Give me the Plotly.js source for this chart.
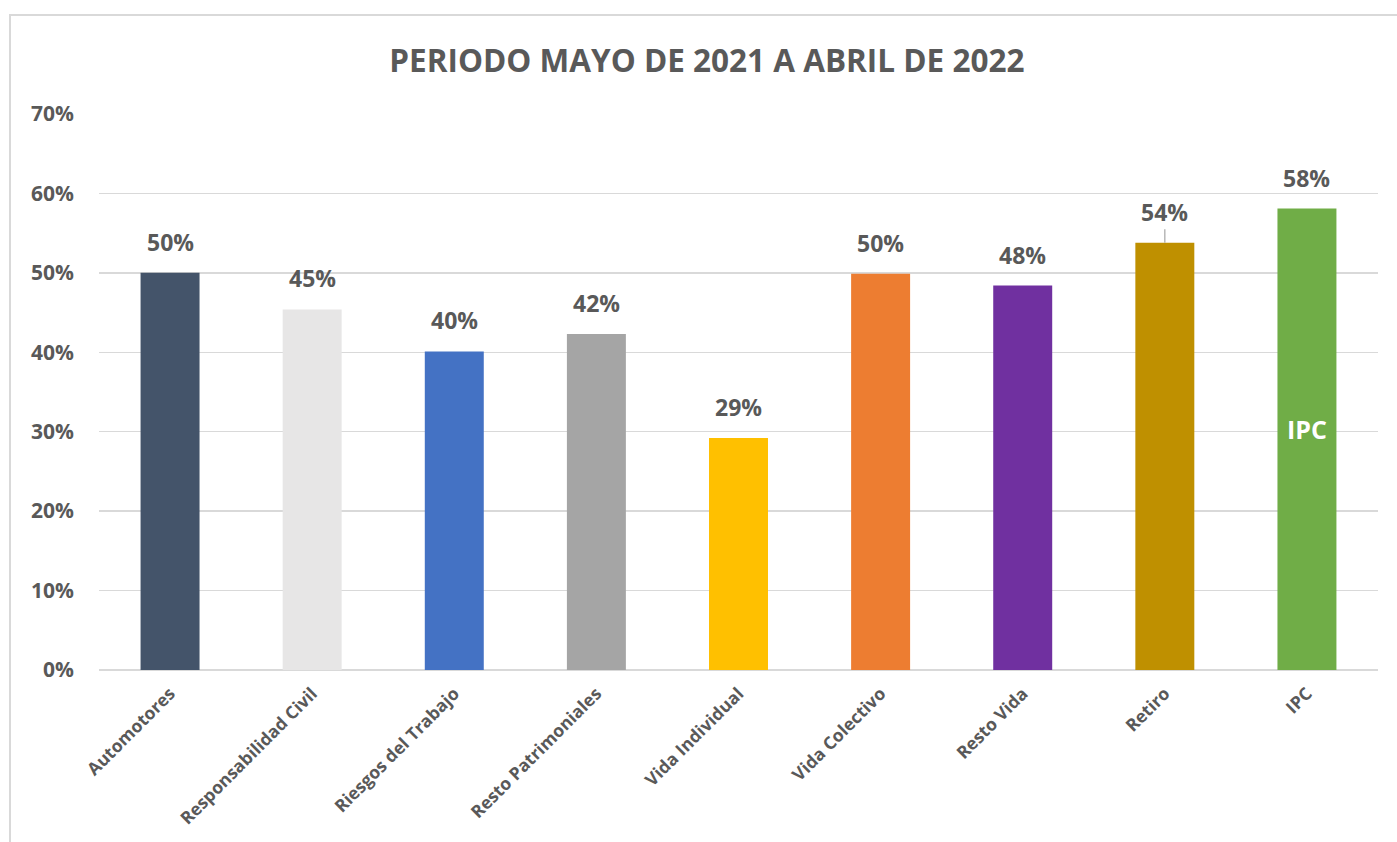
<!DOCTYPE html>
<html>
<head>
<meta charset="utf-8">
<script src="https://cdn.plot.ly/plotly-3.0.1.min.js"></script>
<style>
  html, body { margin: 0; padding: 0; background: #ffffff; }
  #wrap { position: relative; width: 1397px; height: 842px; overflow: hidden; }
  #chart { position: absolute; left: 0; top: 0; width: 1397px; height: 842px; }
  #frame { position: absolute; left: 9px; top: 14px; width: 1400px; height: 840px;
           border-left: 2px solid #d9d9d9; border-top: 2px solid #d9d9d9; pointer-events: none; }
</style>
</head>
<body>
<div id="wrap">
  <div id="chart"></div>
  <div id="frame"></div>
</div>
<script>
const categories = ["Automotores", "Responsabilidad Civil", "Riesgos del Trabajo", "Resto Patrimoniales",
                    "Vida Individual", "Vida Colectivo", "Resto Vida", "Retiro", "IPC"];
const values = [0.500, 0.454, 0.401, 0.423, 0.292, 0.499, 0.484, 0.538, 0.581];
const colors = ["#44546A", "#E7E6E6", "#4472C4", "#A5A5A5", "#FFC000", "#ED7D31", "#7030A0", "#BF9000", "#70AD47"];
const titleText = "PERIODO MAYO DE 2021 A ABRIL DE 2022";
const insideLabel = "IPC";
const leaderCategory = "Retiro";

const FONT = "Open Sans, Lato, sans-serif";
const GREY = "#595959";

const trace = {
  type: "bar",
  x: categories,
  y: values,
  marker: { color: colors, line: { width: 0 } },
  hoverinfo: "skip"
};

const labelFont = { family: FONT, size: 23, color: GREY, weight: "bold" };
const annotations = categories.map((c, i) => {
  const txt = Math.round(values[i] * 100) + "%";
  if (c === leaderCategory) {
    return {
      x: c, y: values[i], xref: "x", yref: "y", text: txt,
      showarrow: true, arrowhead: 0, arrowwidth: 1.2, arrowcolor: "#a6a6a6",
      ax: 0, ay: -31, standoff: 0,
      font: labelFont
    };
  }
  return {
    x: c, y: values[i], xref: "x", yref: "y", text: txt,
    showarrow: false, yanchor: "bottom", yshift: 13,
    font: labelFont
  };
});
const ipcIdx = categories.indexOf(insideLabel);
annotations.push({
  x: categories[ipcIdx], y: values[ipcIdx] / 2, xref: "x", yref: "y",
  text: insideLabel, showarrow: false, yshift: 10,
  font: { family: FONT, size: 25, color: "#ffffff", weight: "bold" }
});

const layout = {
  width: 1397, height: 842,
  margin: { l: 99, r: 19, t: 114, b: 172 },
  paper_bgcolor: "#ffffff", plot_bgcolor: "#ffffff",
  showlegend: false,
  bargap: 0.585,
  title: {
    text: titleText,
    x: 0.506, xanchor: "center", y: 0.927, yanchor: "middle",
    font: { family: FONT, size: 31.5, color: GREY, weight: "bold" }
  },
  xaxis: {
    type: "category",
    tickangle: -45,
    tickfont: { family: FONT, size: 17.5, color: GREY, weight: "bold" },
    showgrid: false, showline: false, ticks: "", zeroline: false,
    ticklabelstandoff: 9
  },
  yaxis: {
    range: [0, 0.7],
    dtick: 0.1,
    tickformat: ".0%",
    tickfont: { family: FONT, size: 21, color: GREY, weight: "bold" },
    showgrid: true, gridcolor: "#d9d9d9", gridwidth: 1.5,
    zeroline: true, zerolinecolor: "#d9d9d9", zerolinewidth: 2,
    showline: false, ticks: "", ticklabelstandoff: 24,
    fixedrange: true
  },
  annotations: annotations
};

Plotly.newPlot("chart", [trace], layout, { displayModeBar: false, staticPlot: true });
</script>
</body>
</html>
